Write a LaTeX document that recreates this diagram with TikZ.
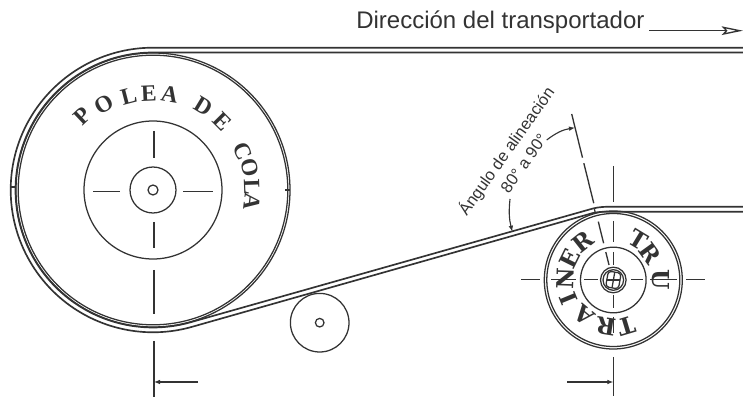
\documentclass[tikz,border=0pt]{standalone}
\usepackage{fontspec}
\setmainfont{Liberation Sans}
\newfontfamily\poleafont{Liberation Serif}
\newfontfamily\trufont{DejaVu Serif}
\usetikzlibrary{calc, arrows.meta}
\definecolor{ink}{gray}{0.2}
\tikzset{
    part/.style={draw=ink, line width=0.95pt},
    belt/.style={draw=ink, line width=1.25pt},
    centre/.style={draw=ink, line width=1pt},
    dim/.style={draw=ink, line width=0.85pt, -{Latex[length=4.5pt,width=3.5pt]}},
    polealetter/.style={inner sep=0pt, text=ink, font=\poleafont\bfseries\fontsize{17.5}{17.5}\selectfont},
    truletter/.style={inner sep=0pt, text=ink, font=\trufont\bfseries\fontsize{17.5}{17.5}\selectfont}
}

\begin{document}
\begin{tikzpicture}[x=0.75pt, y=0.75pt]
    \useasboundingbox (0,0) rectangle (743,399);

    % Define points
    \coordinate (tail) at (153,209); % Tail pulley centre
    \coordinate (tru) at (613.3,119); % Trainer centre
    \coordinate (idler) at (319.7,76.3); % Small roller centre
    \coordinate (alignA) at (571.7,285); % Alignment line, far end
    \coordinate (alignB) at (609,134); % Alignment line, near end

    % Belt, outer and inner lines
    \draw[belt] (743,351.3) -- (153,351.3) arc (90:285.84:142.3) -- (593,186)
        .. controls (600,187.5) and (605,187.3) .. (613,187.3) -- (743,187.3);
    \draw[belt] (743,346.5) -- (153,346.5) arc (90:285.84:137.5) -- (593,190.5)
        .. controls (600,192.2) and (605,192.3) .. (613,192.3) -- (743,192.3);
    \draw[part] (594.2,191) -- (595.2,186.5);

    % Tail pulley
    \draw[part] (tail) circle (137);
    \draw[part] (tail) circle (134.8);
    \draw[part] (tail) circle (69);
    \draw[part] (tail) circle (23);
    \draw[part] (tail) circle (5);
    \draw[part] (11,212) -- (16,212);
    \draw[part] (285,209) -- (290,209);

    % Centre lines of the tail pulley
    \foreach \a/\b in {59/32, -32/-58, -80/-124, -151/-207}
        \draw[centre] ($(tail)+(1,\a)$) -- ($(tail)+(1,\b)$);
    \foreach \a/\b in {-60/-33, 30/60}
        \draw[centre] ($(tail)+(\a,-1.7)$) -- ($(tail)+(\b,-1.7)$);

    % Small roller
    \draw[part] (idler) circle (29.3);
    \draw[part] (idler) circle (4.3);

    % Trainer
    \draw[part] (tru) circle (69);
    \draw[part] (tru) circle (66.5);
    \draw[part] (tru) circle (32.8);
    \draw[part] (tru) circle (12.8);
    \draw[part] (tru) circle (10.3);
    \draw[part, rotate around={-10:(tru)}, rounded corners=2.5pt] ($(tru)+(-6.5,-8)$) rectangle ($(tru)+(6.5,8)$);
    \draw[part, rotate around={-10:(tru)}] ($(tru)+(0,-8)$) -- ($(tru)+(0,8)$);
    \draw[part] ($(tru)+(-6.5,0)$) -- ($(tru)+(6.5,0)$);

    % Centre lines of the trainer
    \foreach \a/\b in {114/78, 59/38, 28/15, -15/-28, -37/-53, -77/-116}
        \draw[centre] ($(tru)+(0,\a)$) -- ($(tru)+(0,\b)$);
    \foreach \a/\b in {-92/-73, -62/-37, -29/-15, 18/30, 37/64, 73/92}
        \draw[centre] ($(tru)+(\a,0.7)$) -- ($(tru)+(\b,0.7)$);

    % Alignment line
    \foreach \a/\b in {0/0.289, 0.326/0.591, 0.713/0.856, 0.914/1}
        \draw[centre] ($(alignA)!\a!(alignB)$) -- ($(alignA)!\b!(alignB)$);

    % Angle arrows
    \coordinate (angA) at (546.7,259);
    \coordinate (angB) at (575,271.3);
    \coordinate (angC) at (510,200);
    \coordinate (angD) at (512.3,167.3);
    \draw[dim] (angA) to[bend left=14] (angB);
    \draw[dim] (angC) to[bend right=10] (angD);

    % Dimension arrows
    \coordinate (dimA) at (198,17);
    \coordinate (dimB) at (154,17);
    \coordinate (dimC) at (567,17);
    \coordinate (dimD) at (613.3,17);
    \draw[dim] (dimA) -- (dimB);
    \draw[dim] (dimC) -- (dimD);

    % Curved lettering
    \foreach \ch/\ang/\rad [count=\i] in {P/133.4/102, O/119.8/99, L/104.5/97, E/92.5/97, A/80.1/97, D/58.9/98,
        E/44.7/97, C/23/98, O/12.8/99.5, L/1.9/98.8, A/-6.8/99.4}
        \node[polealetter, rotate=\ang-90] (polea\i) at ($(tail)+(\ang:\rad)$) {\ch};
    \foreach \ch/\ang/\rad [count=\i] in {T/58.8/47.6, R/35.8/45.6, U/0/47.7, T/-73.3/47.7, R/-99/47,
        A/-129.6/45.5, I/-157.7/48, N/178/48, E/153.6/48.7, R/128.4/48.9}
        \node[truletter, rotate=\ang-90] (tru\i) at ($(tru)+(\ang:\rad)$) {\ch};

    % Labels
    \node[anchor=base west, inner sep=0pt, text=ink, font=\fontsize{18}{18}\selectfont] (dir) at (356,370) {Dirección del transportador};
    \coordinate (dirA) at (649,368.3);
    \coordinate (dirB) at (743,368.3);
    \draw[draw=ink, line width=1pt, -{Stealth[open, length=16pt, width=6.5pt, inset=3pt]}] (dirA) -- (dirB);
    \node[rotate=54.6, align=center, inner sep=0pt, text=ink, font=\fontsize{12.3}{16}\selectfont] (ang) at (514,242.5) {Ángulo de alineación\\80° a 90°};
\end{tikzpicture}
\end{document}
